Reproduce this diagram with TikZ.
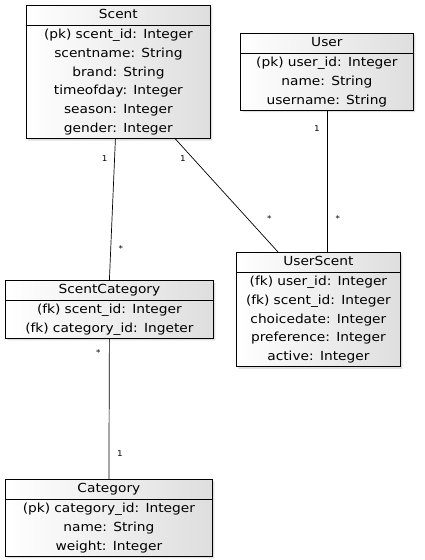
\documentclass[tikz,border=0pt]{standalone}
\usepackage{fontspec}
\setmainfont[FakeStretch=1.1]{DejaVu Sans}
\usepackage{tikz}
\usetikzlibrary{positioning,shapes.multipart,shadows}

\tikzset{
    entity/.style={rectangle split, rectangle split parts=2, draw, line width=0.8pt,
        inner xsep=0pt, inner ysep=0pt, align=center, anchor=north west,
        left color=white, right color=black!13,
        drop shadow={shadow xshift=2pt, shadow yshift=-2pt, opacity=0.25},
        font=\fontsize{12.5}{18.8}\selectfont},
    card/.style={font=\footnotesize, inner sep=1pt},
    rel/.style={line width=0.7pt}
}

\begin{document}
\begin{tikzpicture}[x=1pt, y=-1pt]
    \useasboundingbox (0,0) rectangle (424,560);

    \node [entity, text width=184pt] (scent) at (26,5) {\strut Scent
        \nodepart{two}\strut (pk) scent\_id: Integer\\
        \strut scentname: String\\
        \strut brand: String\\
        \strut timeofday: Integer\\
        \strut season: Integer\\
        \strut gender: Integer};

    \node [entity, text width=173pt] (user) at (240,33) {\strut User
        \nodepart{two}\strut (pk) user\_id: Integer\\
        \strut name: String\\
        \strut username: String};

    \node [entity, text width=208pt] (scentcat) at (5,280) {\strut ScentCategory
        \nodepart{two}\strut (fk) scent\_id: Integer\\
        \strut (fk) category\_id: Ingeter};

    \node [entity, text width=164pt] (userscent) at (236,252) {\strut UserScent
        \nodepart{two}\strut (fk) user\_id: Integer\\
        \strut (fk) scent\_id: Integer\\
        \strut choicedate: Integer\\
        \strut preference: Integer\\
        \strut active: Integer};

    \node [entity, text width=207pt] (category) at (5,479) {\strut Category
        \nodepart{two}\strut (pk) category\_id: Integer\\
        \strut name: String\\
        \strut weight: Integer};

    % relations
    \draw [rel] ([xshift=-3pt]scent.south) -- (scentcat.north)
        node [card, pos=0.14, xshift=-10pt] {1}
        node [card, pos=0.78, xshift=10pt] {*};
    \draw [rel] ([xshift=57pt]scent.south) -- ([xshift=42pt]userscent.north west)
        node [card, pos=0.17, xshift=-10pt] {1}
        node [card, pos=0.70, xshift=22pt] {*};
    \draw [rel] (user.south) -- (user.south |- userscent.north)
        node [card, pos=0.13, xshift=-10pt] {1}
        node [card, pos=0.76, xshift=11pt] {*};
    \draw [rel] (scentcat.south) -- (category.north)
        node [card, pos=0.10, xshift=-11pt] {*}
        node [card, pos=0.82, xshift=11pt] {1};
\end{tikzpicture}
\end{document}
